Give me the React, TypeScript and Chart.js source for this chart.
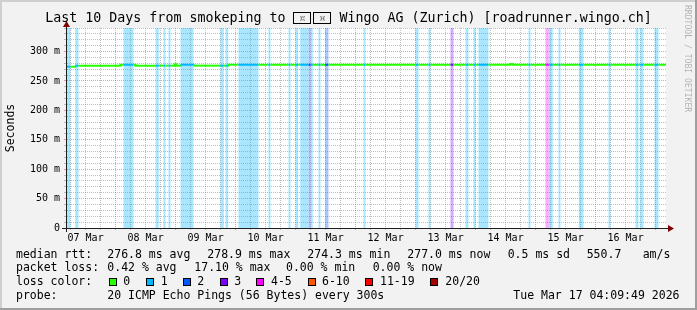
import { useEffect, useRef } from 'react';
import { Chart, registerables } from 'chart.js';

Chart.register(...registerables);

const MONO = "'DejaVu Sans Mono', 'Liberation Mono', monospace";

// ---- time axis (hours since 07 Mar 00:00) ----
const START_H = 4.1636; // 07 Mar 04:09:49
const END_H = 244.1636; // 17 Mar 04:09:49
const dayLabels = ['07 Mar', '08 Mar', '09 Mar', '10 Mar', '11 Mar', '12 Mar', '13 Mar', '14 Mar', '15 Mar', '16 Mar'];
const dayLabelHours = [12, 36, 60, 84, 108, 132, 156, 180, 204, 228];

// ---- packet loss periods (pings lost out of 20) ----
const lossStart = [4.24, 7.84, 27.16, 39.96, 43.16, 45.16, 49.96, 65.96, 67.96, 73.16, 85.16, 93.16, 95.96, 97.84, 101.28, 101.96, 105.16, 107.84, 123.16, 143.96, 149.16, 157.96, 163.96, 167.16, 169.16, 189.16, 195.96, 197.28, 201.16, 209.28, 221.16, 231.96, 233.84, 239.56];
const lossEnd = [5.96, 9.16, 31.16, 41.28, 43.96, 45.96, 55.16, 67.28, 69.04, 81.16, 85.96, 93.96, 97.04, 101.28, 101.96, 102.88, 105.96, 109.16, 123.96, 145.16, 149.96, 159.16, 165.16, 167.96, 173.16, 189.96, 197.28, 198.88, 201.96, 211.16, 221.96, 233.16, 235.16, 241.16];
const lossPings = [1, 1, 1, 1, 1, 1, 1, 1, 1, 1, 1, 1, 1, 1, 3, 1, 1, 2, 1, 1, 1, 3, 1, 1, 1, 1, 4, 1, 1, 1, 1, 1, 1, 1];

// ---- median rtt (ms), step changes ----
const medianTime = [4.16, 7.84, 25.96, 31.96, 47.56, 48.36, 49.96, 55.16, 69.16, 181.84, 182.88];
const medianValue = [274.3, 276.0, 277.5, 276.0, 278.2, 276.0, 277.5, 276.0, 277.5, 278.9, 277.5];

// ---- legend ----
const lossLegendLabels = ['0', '1', '2', '3', '4-5', '6-10', '11-19', '20/20'];
const lossLegendColors = ['#26ff00', '#00b8ff', '#0059ff', '#7e00ff', '#ff00ff', '#ff5500', '#ff0000', '#a10000'];
const lossLegendMax = [0, 1, 2, 3, 5, 10, 19, 20];
const rttStats = ['276.8 ms avg', '278.9 ms max', '274.3 ms min', '277.0 ms now', '0.5 ms sd', '550.7', 'am/s'];
const lossStats = ['0.42 % avg', '17.10 % max', '0.00 % min', '0.00 % now'];
const probeText = '20 ICMP Echo Pings (56 Bytes) every 300s';
const stampText = 'Tue Mar 17 04:09:49 2026';
const titlePrefix = 'Last 10 Days from smokeping to ';
const titleFlag = ['\u{1F1E8}', '\u{1F1ED}'];
const titleSuffix = ' Wingo AG (Zurich) [roadrunner.wingo.ch]';
const yTitle = 'Seconds';
const watermark = 'RRDTOOL / TOBI OETIKER';

// ---- layout (pixels) ----
const rttX = [107.3, 207.3, 307.3, 407.3, 507.7, 586.7, 642.7];
const lossX = [107.3, 194.3, 286, 372.7];
const squareX = [108.7, 145.7, 182.7, 219.7, 256.3, 307.7, 364.7, 430];
const squareLabelX = [123.3, 160.7, 197.3, 234.3, 271, 322, 380, 445.3];
const rowTop = [246.7, 260.4, 274.2, 288.0];

const GRID = 'rgba(128,128,128,0.5)';
const MGRID = 'rgba(222,80,80,0.55)';
const AXIS = '#1f1f1f';
const ARROW = '#7f0000';

const lossIdx = (p: number) => {
  for (let i = 0; i < lossLegendMax.length; i++) if (p <= lossLegendMax[i]) return i;
  return lossLegendMax.length - 1;
};
const bandAt = (t: number) => {
  for (let i = 0; i < lossStart.length; i++) if (lossStart[i] <= t && t < lossEnd[i]) return i;
  return -1;
};
const medianAt = (t: number) => {
  let v = medianValue[0];
  for (let i = 0; i < medianTime.length; i++) if (medianTime[i] <= t + 1e-9) v = medianValue[i];
  return v;
};

const cuts = Array.from(new Set([START_H, ...medianTime, ...lossStart, ...lossEnd, END_H]))
  .filter((t) => t >= START_H && t <= END_H)
  .sort((a, b) => a - b);
const linePoints = cuts.map((t) => ({ x: t, y: medianAt(t) }));
const lineColors = cuts.map((t, i) => {
  if (i === cuts.length - 1) return lossLegendColors[0];
  const b = bandAt((t + cuts[i + 1]) / 2);
  return b < 0 ? lossLegendColors[0] : lossLegendColors[lossIdx(lossPings[b])];
});
const bandData = lossStart.map((s, i) => ({ x: [s, lossEnd[i]], y: 'loss' }));
const bandColors = lossPings.map((p) => lossLegendColors[lossIdx(p)] + '55');

const framePlugin = {
  id: 'rrdframe',
  beforeDraw(chart: any) {
    const { ctx, chartArea } = chart;
    const { left, top, right, bottom } = chartArea;
    ctx.save();
    ctx.fillStyle = '#ffffff';
    ctx.fillRect(left, top, right - left, bottom - top);
    ctx.restore();
  },
  afterDraw(chart: any) {
    const { ctx, chartArea } = chart;
    const { left, top, right, bottom } = chartArea;
    const bx = Math.round(left) + 0.5;
    const by = Math.round(bottom) + 0.5;
    ctx.save();
    ctx.strokeStyle = AXIS;
    ctx.lineWidth = 1;
    ctx.beginPath();
    ctx.moveTo(left - 4, by);
    ctx.lineTo(right + 3, by);
    ctx.moveTo(bx, bottom + 4);
    ctx.lineTo(bx, top - 3);
    ctx.stroke();
    ctx.fillStyle = ARROW;
    ctx.beginPath();
    ctx.moveTo(right + 2, by - 3.5);
    ctx.lineTo(right + 8, by);
    ctx.lineTo(right + 2, by + 3.5);
    ctx.closePath();
    ctx.fill();
    ctx.beginPath();
    ctx.moveTo(bx - 3.5, top - 1);
    ctx.lineTo(bx, top - 7);
    ctx.lineTo(bx + 3.5, top - 1);
    ctx.closePath();
    ctx.fill();
    ctx.restore();
  },
};

const txt = (left: number, top: number, text: string, extra: any = {}) => (
  <div
    key={`${left}-${top}-${text}`}
    style={{
      position: 'absolute',
      left,
      top,
      fontSize: 11.5,
      lineHeight: '14px',
      whiteSpace: 'pre',
      color: '#000',
      ...extra,
    }}
  >
    {text}
  </div>
);

export default function App() {
  const ref = useRef<HTMLCanvasElement>(null);

  useEffect(() => {
    if (!ref.current) return;
    const chart = new Chart(ref.current, {
      type: 'line',
      data: {
        datasets: [
          {
            type: 'line',
            label: 'median rtt',
            xAxisID: 'x',
            yAxisID: 'y',
            data: linePoints,
            stepped: true,
            borderWidth: 2,
            borderColor: lossLegendColors[0],
            pointRadius: 0,
            fill: false,
            order: 1,
            segment: { borderColor: (c: any) => lineColors[c.p0DataIndex] },
          } as any,
          {
            type: 'bar',
            label: 'loss',
            indexAxis: 'y',
            xAxisID: 'x',
            yAxisID: 'band',
            data: bandData,
            backgroundColor: bandColors,
            borderWidth: 0,
            barPercentage: 1,
            categoryPercentage: 1,
            inflateAmount: 0,
            order: 2,
          } as any,
        ],
      },
      options: {
        animation: false,
        responsive: false,
        devicePixelRatio: 1,
        events: [],
        layout: { padding: { left: 0, top: 28, right: 31, bottom: 62 } },
        plugins: { legend: { display: false }, tooltip: { enabled: false }, title: { display: false } },
        scales: {
          x: {
            type: 'linear',
            position: 'bottom',
            min: START_H,
            max: END_H,
            afterFit: (s: any) => {
              s.height = 20;
            },
            afterBuildTicks: (s: any) => {
              const t = [];
              for (let h = 6; h <= 240; h += 6) t.push({ value: h });
              s.ticks = t;
            },
            ticks: {
              autoSkip: false,
              maxRotation: 0,
              minRotation: 0,
              padding: 2,
              color: '#000',
              font: { family: MONO, size: 10 },
              callback: (v: any) => {
                const i = dayLabelHours.indexOf(Number(v));
                return i >= 0 ? dayLabels[i] : '';
              },
            },
            grid: {
              color: (c: any) => (c.tick && c.tick.value % 24 === 0 ? MGRID : GRID),
              tickLength: 2,
              lineWidth: 1,
            },
            border: { color: AXIS, width: 1, dash: [1, 1] },
          },
          y: {
            type: 'linear',
            position: 'left',
            min: 0,
            max: 340,
            afterFit: (s: any) => {
              s.width = 66;
            },
            afterBuildTicks: (s: any) => {
              const t = [];
              for (let v = 0; v <= 340; v += 10) t.push({ value: v });
              s.ticks = t;
            },
            ticks: {
              autoSkip: false,
              padding: 4,
              color: '#000',
              font: { family: MONO, size: 10 },
              callback: (v: any) => (Number(v) % 50 !== 0 ? '' : Number(v) === 0 ? '0' : `${v} m`),
            },
            grid: {
              color: (c: any) => (c.tick && c.tick.value % 50 === 0 ? MGRID : GRID),
              tickLength: 2,
              lineWidth: 1,
            },
            border: { color: AXIS, width: 1, dash: [1, 1] },
            title: {
              display: true,
              text: yTitle,
              color: '#000',
              font: { family: MONO, size: 11.5 },
              padding: { top: 4, bottom: 0 },
            },
          },
          band: {
            type: 'category',
            axis: 'y',
            position: 'left',
            labels: ['loss'],
            display: false,
            offset: true,
          },
        } as any,
      },
      plugins: [framePlugin],
    });
    return () => chart.destroy();
  }, []);

  const tofu = {
    display: 'inline-block',
    width: 16,
    height: 10,
    border: '1px solid #000',
    overflow: 'hidden',
    verticalAlign: '-2px',
    fontSize: 6,
    lineHeight: '10px',
    textAlign: 'center' as const,
  };

  return (
    <div
      style={{
        position: 'absolute',
        left: 0,
        top: 0,
        width: 697,
        height: 310,
        background: '#f2f2f2',
        overflow: 'hidden',
        fontFamily: MONO,
        color: '#000',
      }}
    >
      <div style={{ position: 'absolute', left: 0, top: 0, width: 697, height: 2, background: '#cfcfcf' }} />
      <div style={{ position: 'absolute', left: 0, top: 0, width: 2, height: 310, background: '#cfcfcf' }} />
      <div style={{ position: 'absolute', left: 0, top: 308, width: 697, height: 2, background: '#9e9e9e' }} />
      <div style={{ position: 'absolute', left: 695, top: 0, width: 2, height: 310, background: '#9e9e9e' }} />
      <canvas ref={ref} width={697} height={310} style={{ position: 'absolute', left: 0, top: 0 }} />
      <div
        style={{
          position: 'absolute',
          left: 0,
          top: 10.2,
          width: 697,
          textAlign: 'center',
          fontSize: 13.3,
          lineHeight: '16px',
          whiteSpace: 'pre',
        }}
      >
        {titlePrefix}
        <span style={{ ...tofu, marginRight: 2 }}>{titleFlag[0]}</span>
        <span style={tofu}>{titleFlag[1]}</span>
        {titleSuffix}
      </div>
      <div
        style={{
          position: 'absolute',
          left: 682.8,
          top: 5.3,
          writingMode: 'vertical-rl',
          fontSize: 8.1,
          lineHeight: '10px',
          whiteSpace: 'pre',
          color: 'rgba(0,0,0,0.27)',
        }}
      >
        {watermark}
      </div>
      {txt(16, rowTop[0], 'median rtt:')}
      {rttStats.map((s, i) => txt(rttX[i], rowTop[0], s))}
      {txt(16, rowTop[1], 'packet loss:')}
      {lossStats.map((s, i) => txt(lossX[i], rowTop[1], s))}
      {txt(16, rowTop[2], 'loss color:')}
      {lossLegendLabels.map((l, i) => (
        <div key={'sq' + i}>
          <div
            style={{
              position: 'absolute',
              left: squareX[i],
              top: 277.6,
              width: 6,
              height: 6,
              border: '1px solid #000',
              background: lossLegendColors[i],
            }}
          />
          {txt(squareLabelX[i], rowTop[2], l)}
        </div>
      ))}
      {txt(16, rowTop[3], 'probe:')}
      {txt(107.3, rowTop[3], probeText)}
      <div
        style={{
          position: 'absolute',
          right: 697 - 679.5,
          top: rowTop[3],
          fontSize: 11.5,
          lineHeight: '14px',
          whiteSpace: 'pre',
        }}
      >
        {stampText}
      </div>
    </div>
  );
}
